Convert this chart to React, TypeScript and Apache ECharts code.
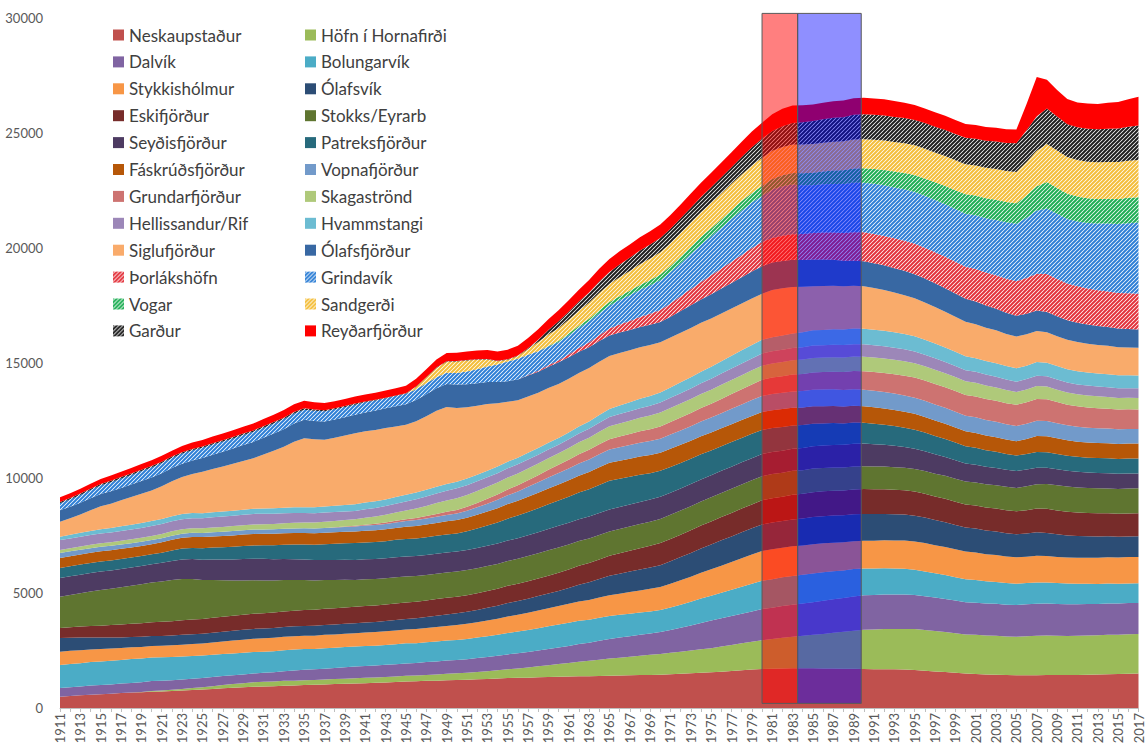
import React, { useEffect, useRef } from "react";
import * as echarts from "echarts";

const years: string[] = Array.from({ length: 107 }, (_, i) => String(1911 + i));

const names = [
  "Neskaupstaður", "Höfn í Hornafirði", "Dalvík", "Bolungarvík", "Stykkishólmur", "Ólafsvík",
  "Eskifjörður", "Stokks/Eyrarb", "Seyðisfjörður", "Patreksfjörður", "Fáskrúðsfjörður", "Vopnafjörður",
  "Grundarfjörður", "Skagaströnd", "Hellissandur/Rif", "Hvammstangi", "Siglufjörður", "Ólafsfjörður",
  "Þorlákshöfn", "Grindavík", "Vogar", "Sandgerði", "Garður", "Reyðarfjörður",
];

const neskaupstadur = [
  490,520,550,580,600,620,650,670,690,710,
  720,740,760,780,800,830,860,880,900,920,
  940,950,970,980,1000,1010,1020,1040,1050,1070,
  1080,1100,1110,1130,1150,1160,1180,1190,1210,1220,
  1230,1250,1260,1280,1300,1310,1320,1340,1350,1360,
  1370,1380,1380,1390,1400,1410,1420,1430,1440,1450,
  1470,1490,1510,1530,1550,1580,1610,1640,1670,1700,
  1710,1720,1730,1730,1730,1720,1720,1710,1710,1700,
  1690,1690,1680,1670,1650,1620,1590,1560,1530,1500,
  1480,1460,1450,1430,1420,1420,1420,1430,1430,1430,
  1440,1450,1460,1470,1480,1490,1500,
];
const hofn = [
  0,0,0,0,0,0,0,0,10,30,
  40,50,70,90,100,120,140,160,180,200,
  200,200,210,210,210,210,220,220,220,220,
  230,230,240,240,250,250,260,270,280,290,
  300,320,340,360,380,410,440,470,510,550,
  590,630,670,710,750,780,810,840,870,900,
  930,960,990,1020,1050,1090,1130,1170,1210,1250,
  1290,1330,1370,1410,1450,1500,1550,1600,1650,1700,
  1720,1740,1760,1770,1780,1770,1760,1740,1720,1700,
  1700,1690,1690,1680,1680,1700,1720,1720,1710,1700,
  1700,1700,1700,1710,1710,1720,1720,
];
const dalvik = [
  380,385,390,395,400,405,410,420,425,430,
  425,420,410,405,400,395,390,385,380,380,
  390,400,420,440,450,460,470,480,500,510,
  515,520,530,535,540,550,555,565,570,580,
  590,600,615,630,650,665,680,690,705,720,
  740,770,790,820,850,870,890,910,930,950,
  990,1040,1090,1150,1200,1230,1260,1290,1320,1350,
  1360,1380,1390,1400,1420,1440,1460,1470,1490,1500,
  1500,1500,1490,1490,1480,1470,1450,1440,1420,1400,
  1400,1390,1390,1380,1380,1390,1390,1390,1380,1380,
  1370,1370,1360,1360,1350,1350,1350,
];
const bolungarvik = [
  1000,1010,1010,1020,1020,1030,1030,1040,1030,1030,
  1020,1010,1000,990,980,970,960,950,940,930,
  920,920,910,910,900,890,890,880,880,870,
  870,860,860,870,870,860,860,870,870,870,
  880,890,900,910,930,940,950,970,990,1000,
  1010,1010,1000,1000,1000,990,980,970,960,960,
  980,1000,1030,1060,1080,1110,1140,1170,1200,1230,
  1240,1250,1250,1250,1250,1240,1220,1200,1190,1170,
  1160,1150,1130,1120,1100,1080,1060,1040,1020,1000,
  990,970,950,940,920,920,930,920,910,900,
  890,880,870,870,860,850,850,
];
const stykkisholmur = [
  580,570,560,550,540,530,520,510,500,500,
  500,505,510,515,520,530,540,555,570,580,
  580,580,585,580,580,575,580,580,580,580,
  585,590,595,600,600,610,620,630,640,650,
  660,670,690,700,720,730,750,770,780,800,
  820,840,860,880,900,920,940,960,980,1000,
  1030,1060,1090,1120,1150,1180,1210,1240,1270,1300,
  1300,1290,1290,1280,1270,1260,1240,1230,1210,1200,
  1200,1210,1220,1230,1230,1230,1220,1220,1210,1200,
  1190,1180,1170,1160,1150,1150,1160,1150,1140,1130,
  1130,1130,1140,1140,1140,1150,1150,
];
const olafsvik = [
  590,570,550,520,500,480,460,450,440,430,
  430,430,430,430,430,430,430,430,430,430,
  430,430,430,430,430,430,430,430,430,430,
  435,440,445,450,460,470,480,490,500,510,
  520,530,550,565,580,595,610,625,640,660,
  690,730,770,810,850,870,890,910,930,950,
  980,1010,1030,1060,1080,1100,1110,1130,1140,1150,
  1160,1160,1170,1170,1180,1180,1180,1170,1170,1170,
  1160,1150,1140,1130,1120,1110,1090,1080,1060,1050,
  1040,1030,1020,1010,1000,1010,1020,1000,980,960,
  950,940,930,920,910,900,900,
];
const eskifjordur = [
  440,460,480,500,520,540,560,570,590,600,
  610,620,630,635,640,645,650,650,655,660,
  665,670,675,680,690,695,700,710,715,720,
  720,720,720,720,720,720,720,720,720,720,
  725,730,735,740,750,755,765,770,780,790,
  800,820,830,850,870,890,910,930,940,960,
  970,975,985,990,1000,1010,1020,1030,1040,1050,
  1060,1060,1070,1070,1080,1080,1080,1080,1080,1080,
  1080,1070,1070,1060,1050,1040,1030,1020,1010,1000,
  1000,1000,1000,1000,1000,1010,1030,1050,1040,1030,
  1020,1010,1010,1000,1000,1000,1000,
];
const stokksEyrarb = [
  1360,1400,1450,1500,1550,1580,1620,1660,1700,1730,
  1760,1790,1800,1760,1700,1640,1580,1530,1490,1450,
  1420,1390,1360,1330,1300,1270,1250,1220,1200,1170,
  1160,1150,1140,1140,1130,1120,1110,1100,1100,1090,
  1090,1090,1080,1080,1080,1080,1090,1090,1100,1100,
  1090,1080,1070,1060,1050,1050,1050,1050,1050,1050,
  1050,1050,1050,1050,1050,1050,1050,1050,1050,1050,
  1050,1040,1040,1030,1030,1020,1010,1000,1000,990,
  990,985,980,980,980,985,990,995,1000,1000,
  1005,1010,1010,1015,1020,1040,1060,1080,1090,1100,
  1090,1080,1080,1070,1070,1080,1080,
];
const seydisfjordur = [
  810,810,805,800,800,795,795,790,790,790,
  810,830,850,870,880,900,910,920,930,940,
  940,930,920,910,900,890,880,880,870,870,
  870,870,870,870,870,870,870,870,870,870,
  870,875,880,885,890,900,910,920,930,940,
  945,950,955,960,960,960,960,960,960,960,
  960,960,960,960,960,960,960,960,960,960,
  960,960,965,965,970,975,980,985,990,990,
  970,950,930,900,880,860,840,820,800,780,
  770,760,750,740,730,725,720,710,700,690,
  680,675,670,665,660,655,650,
];
const patreksfjordur = [
  440,440,440,440,440,435,435,430,430,430,
  440,455,470,485,500,515,530,550,565,580,
  590,605,620,635,650,665,680,700,715,730,
  735,740,745,755,760,765,770,780,785,790,
  820,850,880,915,950,980,1010,1040,1070,1100,
  1130,1160,1190,1220,1250,1230,1200,1180,1150,1130,
  1120,1110,1100,1090,1080,1070,1070,1060,1060,1050,
  1040,1030,1010,1000,980,960,950,930,920,900,
  890,870,860,840,830,810,800,780,770,750,
  740,720,710,690,680,680,680,670,660,650,
  650,650,650,650,650,650,650,
];
const faskrudsfjordur = [
  430,430,435,440,440,440,440,440,440,440,
  450,460,470,475,480,485,490,495,500,500,
  500,500,500,500,500,500,500,500,500,500,
  505,510,515,520,530,540,550,560,570,580,
  590,600,615,625,640,650,665,675,690,700,
  715,730,745,765,780,785,790,790,790,790,
  790,790,785,785,780,780,780,780,780,780,
  780,775,770,765,760,750,745,735,730,720,
  715,710,700,695,690,680,675,665,660,650,
  645,640,635,630,620,650,700,700,690,670,
  660,660,655,655,650,650,650,
];
const vopnafjordur = [
  220,215,210,205,200,195,190,185,180,180,
  180,180,180,180,180,185,185,190,190,190,
  190,195,195,200,200,205,210,210,215,220,
  225,230,235,240,250,260,265,275,280,290,
  305,320,340,360,380,400,425,450,475,500,
  515,530,545,565,580,585,590,600,605,610,
  620,625,635,640,650,660,670,680,690,700,
  705,710,710,715,720,720,720,720,720,720,
  715,715,710,705,700,700,695,690,685,680,
  680,675,670,665,660,660,660,655,650,650,
  645,645,640,640,635,635,630,
];
const grundarfjordur = [
  0,0,0,0,0,0,0,0,0,0,
  0,0,0,0,0,0,0,0,0,0,
  0,0,0,0,0,0,0,10,20,30,
  40,50,60,70,80,90,105,120,135,150,
  170,190,210,230,250,270,290,315,340,360,
  380,400,420,435,450,465,480,500,515,530,
  545,560,570,585,600,620,640,660,680,700,
  710,720,730,740,750,760,770,780,790,800,
  815,830,845,860,880,885,890,895,900,900,
  905,910,915,915,920,935,950,950,920,900,
  890,880,870,865,860,855,850,
];
const skagastrond = [
  130,135,140,145,150,155,160,170,175,180,
  185,190,195,200,200,205,210,215,215,220,
  225,230,235,245,250,260,265,275,280,290,
  305,320,340,360,380,410,440,470,490,510,
  515,520,520,520,520,515,510,505,500,500,
  510,520,530,545,560,570,580,590,600,610,
  610,610,610,610,610,610,610,610,610,610,
  615,615,620,625,630,630,630,630,630,630,
  630,630,625,625,620,615,615,610,605,600,
  595,590,580,570,560,560,560,550,540,530,
  525,520,515,510,505,500,500,
];
const hellissandur = [
  430,430,430,430,430,430,430,430,430,430,
  430,435,435,440,440,445,450,450,455,460,
  455,450,440,430,420,410,400,385,370,360,
  365,370,375,380,390,400,410,420,425,430,
  425,420,415,410,400,395,390,385,380,370,
  375,380,385,395,400,405,410,415,425,430,
  440,450,460,470,480,490,500,510,520,530,
  530,535,535,540,540,540,540,540,540,540,
  535,530,525,520,510,505,500,490,485,480,
  475,470,465,460,450,450,450,445,440,430,
  430,430,425,425,420,420,420,
];
const hvammstangi = [
  150,155,165,170,180,190,200,205,215,220,
  220,220,220,220,220,220,220,220,220,220,
  225,230,235,245,250,260,265,275,280,290,
  290,290,290,290,290,290,290,290,290,290,
  290,290,290,290,290,290,290,290,290,290,
  300,310,320,335,350,370,390,410,425,440,
  455,470,490,505,520,535,550,570,585,600,
  610,625,635,650,660,665,670,675,680,680,
  680,675,670,665,660,650,640,625,610,600,
  595,590,585,580,580,585,590,590,585,580,
  575,570,570,565,565,560,560,
];
const siglufjordur = [
  650,720,800,900,1000,1060,1130,1200,1270,1330,
  1420,1520,1610,1700,1800,1880,1960,2040,2120,2200,
  2350,2500,2650,2850,3000,2950,2900,2950,3020,3090,
  3100,3100,3100,3070,3040,3100,3200,3300,3350,3200,
  3100,3000,2900,2750,2600,2500,2450,2400,2380,2350,
  2340,2330,2320,2310,2300,2280,2260,2240,2210,2180,
  2170,2150,2140,2120,2100,2080,2060,2040,2020,2000,
  2050,2050,2020,1970,1920,1910,1890,1880,1860,1850,
  1810,1770,1730,1690,1650,1620,1590,1560,1530,1500,
  1480,1450,1430,1400,1380,1370,1350,1330,1300,1280,
  1270,1250,1240,1230,1220,1210,1200,
];
const olafsfjordur = [
  500,505,510,520,530,535,540,545,555,560,
  570,575,585,590,600,620,640,660,690,710,
  730,750,770,790,800,800,800,800,800,800,
  820,840,860,880,900,930,960,980,1000,1020,
  1000,980,950,920,900,900,910,920,930,940,
  930,920,910,905,900,895,890,885,880,880,
  900,950,990,1020,1050,1080,1110,1140,1170,1200,
  1200,1190,1180,1170,1160,1150,1130,1110,1090,1080,
  1080,1070,1060,1060,1050,1040,1030,1020,1010,1000,
  980,960,940,920,900,890,890,880,870,850,
  840,830,820,815,810,805,800,
];
const thorlakshofn = [
  0,0,0,0,0,0,0,0,0,0,
  0,0,0,0,0,0,0,0,0,0,
  0,0,0,0,0,0,0,0,0,0,
  0,0,0,0,0,0,0,0,0,0,
  0,0,0,0,0,0,20,40,60,80,
  120,160,200,250,300,350,390,430,480,520,
  580,640,700,760,820,870,920,970,1020,1050,
  1070,1090,1110,1130,1150,1170,1190,1210,1240,1260,
  1270,1280,1300,1310,1330,1340,1350,1370,1380,1400,
  1420,1440,1460,1480,1500,1550,1600,1650,1620,1600,
  1580,1570,1560,1550,1550,1550,1550,
];
const grindavik = [
  300,320,340,360,380,400,410,420,430,440,
  440,440,440,440,440,440,440,440,440,440,
  440,440,440,440,440,440,440,440,440,440,
  440,440,440,445,450,460,470,480,490,500,
  550,600,680,760,850,900,880,850,820,800,
  840,880,920,960,1000,1060,1120,1180,1240,1300,
  1360,1440,1530,1620,1700,1780,1860,1930,1980,2000,
  2100,2150,2170,2120,2080,2100,2110,2130,2150,2160,
  2180,2200,2210,2230,2250,2260,2270,2280,2290,2300,
  2330,2360,2400,2450,2500,2620,2750,2850,2830,2800,
  2820,2850,2900,2950,3000,3050,3100,
];
const vogar = [
  0,0,0,0,0,0,0,0,0,0,
  0,0,0,0,0,0,0,0,0,0,
  0,0,0,0,0,0,0,0,0,0,
  0,0,0,0,0,0,0,0,0,0,
  0,0,0,0,0,0,0,0,20,50,
  70,90,110,130,150,170,190,210,230,250,
  270,290,310,330,350,370,390,410,420,440,
  460,480,500,520,540,560,580,600,620,630,
  650,670,690,710,730,750,770,800,820,850,
  860,870,880,890,900,970,1050,1150,1120,1100,
  1080,1070,1070,1080,1090,1100,1100,
];
const sandgerdi = [
  0,0,0,0,0,0,0,0,0,0,
  0,0,0,0,0,0,0,0,0,0,
  0,0,0,0,0,0,0,0,0,0,
  0,0,0,0,0,100,250,400,480,510,
  480,420,300,150,80,120,250,400,500,550,
  600,650,700,750,780,820,860,900,930,960,
  990,1020,1050,1080,1100,1120,1140,1160,1190,1220,
  1230,1235,1240,1245,1250,1250,1255,1255,1260,1260,
  1270,1280,1285,1290,1300,1300,1300,1300,1300,1300,
  1310,1320,1330,1340,1350,1450,1550,1650,1630,1600,
  1590,1590,1590,1600,1600,1610,1620,
];
const gardur = [
  60,60,60,60,60,60,60,60,60,60,
  60,60,60,60,60,60,60,60,60,60,
  60,60,60,60,60,55,50,50,50,50,
  40,30,20,20,20,20,20,20,20,20,
  20,20,20,20,20,20,40,100,200,300,
  350,400,450,500,530,560,580,600,610,620,
  630,640,650,660,680,700,720,760,800,830,
  860,900,930,970,1000,1020,1040,1050,1070,1080,
  1080,1090,1090,1100,1100,1110,1120,1130,1140,1150,
  1160,1180,1200,1220,1250,1380,1500,1550,1480,1420,
  1420,1430,1440,1450,1460,1480,1500,
];
const reydarfjordur = [
  200,205,210,215,220,225,230,240,245,250,
  255,260,265,275,280,285,290,295,300,300,
  310,320,330,340,330,320,310,300,300,300,
  305,310,315,320,330,340,345,350,355,360,
  370,380,390,400,420,430,440,450,460,480,
  500,520,540,550,560,570,575,580,580,590,
  590,600,610,620,630,640,650,660,680,700,
  720,760,760,740,720,720,720,720,720,720,
  710,700,690,670,650,640,630,620,610,600,
  600,600,600,600,600,1150,1700,1250,1150,1100,
  1080,1100,1100,1120,1150,1200,1250,
];

const seriesValues = [
  neskaupstadur, hofn, dalvik, bolungarvik, stykkisholmur, olafsvik,
  eskifjordur, stokksEyrarb, seydisfjordur, patreksfjordur, faskrudsfjordur, vopnafjordur,
  grundarfjordur, skagastrond, hellissandur, hvammstangi, siglufjordur, olafsfjordur,
  thorlakshofn, grindavik, vogar, sandgerdi, gardur, reydarfjordur,
];

const solidColors: Record<string, string> = {
  "Neskaupstaður": "#C0504D",
  "Höfn í Hornafirði": "#9BBB59",
  "Dalvík": "#8064A2",
  "Bolungarvík": "#4BACC6",
  "Stykkishólmur": "#F79646",
  "Ólafsvík": "#2C4D75",
  "Eskifjörður": "#772C2A",
  "Stokks/Eyrarb": "#5F7530",
  "Seyðisfjörður": "#4D3B62",
  "Patreksfjörður": "#276A7C",
  "Fáskrúðsfjörður": "#B65708",
  "Vopnafjörður": "#729ACA",
  "Grundarfjörður": "#CD7371",
  "Skagaströnd": "#AFC97A",
  "Hellissandur/Rif": "#9C87B8",
  "Hvammstangi": "#6CBCD2",
  "Siglufjörður": "#F9AB6B",
  "Ólafsfjörður": "#3868A3",
  "Reyðarfjörður": "#FF0000",
};
const hatchColors: Record<string, string> = {
  "Þorlákshöfn": "#E3333C",
  "Grindavík": "#2E7FD6",
  "Vogar": "#1FAE55",
  "Sandgerði": "#F4BE3A",
  "Garður": "#1E1E1E",
};

// [from year, to year, bottom value, top value]
const periods = [
  [1980, 1983.5, 200, 30200],
  [1983.5, 1989.75, 200, 30200],
];
const periodFills = ["rgba(255,0,0,0.5)", "rgba(0,0,255,0.44)"];

const leftLegend = names.filter((_, i) => i % 2 === 0);
const rightLegend = names.filter((_, i) => i % 2 === 1);

function hatch(color: string) {
  const s = 4;
  const c = document.createElement("canvas");
  c.width = s;
  c.height = s;
  const g = c.getContext("2d")!;
  g.fillStyle = "#ffffff";
  g.fillRect(0, 0, s, s);
  g.strokeStyle = color;
  g.lineWidth = 2;
  g.beginPath();
  g.moveTo(-1, s + 1); g.lineTo(s + 1, -1);
  g.moveTo(-1, 1); g.lineTo(1, -1);
  g.moveTo(s - 1, s + 1); g.lineTo(s + 1, s - 1);
  g.stroke();
  return { image: c.toDataURL(), repeat: "repeat", imageWidth: s, imageHeight: s };
}

export default function App() {
  const ref = useRef<HTMLDivElement>(null);
  useEffect(() => {
    if (!ref.current) return;
    const chart = echarts.init(ref.current, undefined, { renderer: "svg" });
    const areaSeries = names.map((name, i) => {
      const color: any = hatchColors[name] ? hatch(hatchColors[name]) : solidColors[name];
      return {
        name,
        type: "line",
        stack: "total",
        data: seriesValues[i],
        symbol: "none",
        showSymbol: false,
        silent: true,
        itemStyle: { color },
        lineStyle: { width: 0, opacity: 0 },
        areaStyle: { color, opacity: 1 },
        emphasis: { disabled: true },
        xAxisIndex: 0,
        yAxisIndex: 0,
      };
    });
    const legendBase = {
      orient: "vertical",
      top: 25,
      padding: 0,
      itemWidth: 11,
      itemHeight: 11,
      itemGap: 6.9,
      icon: "rect",
      selectedMode: false,
      textStyle: { fontSize: 17, color: "#404040", lineHeight: 20, fontFamily: "Lato" },
    };
    chart.setOption({
      animation: false,
      backgroundColor: "#ffffff",
      textStyle: { fontFamily: "Lato, sans-serif" },
      grid: { left: 60, right: 4, top: 18, bottom: 39, containLabel: false },
      legend: [
        { ...legendBase, left: 113, data: leftLegend },
        { ...legendBase, left: 305, data: rightLegend },
      ],
      xAxis: [
        {
          type: "category",
          data: years,
          boundaryGap: false,
          axisLine: { lineStyle: { color: "#BFBFBF" } },
          axisTick: { interval: 0, length: 4, lineStyle: { color: "#BFBFBF" } },
          axisLabel: { interval: 1, rotate: 90, fontSize: 13, color: "#595959", margin: 5 },
          splitLine: { show: false },
        },
        { type: "value", min: 1911, max: 2017, show: false },
      ],
      yAxis: [
        {
          type: "value",
          min: 0,
          max: 30000,
          interval: 5000,
          axisLine: { show: false },
          axisTick: { show: false },
          splitLine: { show: false },
          axisLabel: {
            fontSize: 13,
            color: "#595959",
            margin: 17,
            formatter: (v: number) => String(v),
          },
        },
      ],
      series: [
        ...areaSeries,
        {
          type: "custom",
          name: "periods",
          xAxisIndex: 1,
          yAxisIndex: 0,
          clip: false,
          silent: true,
          z: 10,
          encode: { x: [0, 1], y: [2, 3] },
          data: periods,
          renderItem: (params: any, api: any) => {
            const p0 = api.coord([api.value(0), api.value(3)]);
            const p1 = api.coord([api.value(1), api.value(2)]);
            return {
              type: "rect",
              shape: { x: p0[0], y: p0[1], width: p1[0] - p0[0], height: p1[1] - p0[1] },
              style: { fill: periodFills[params.dataIndex], stroke: "#5A5A5A", lineWidth: 1 },
            };
          },
        },
      ],
    });
    return () => chart.dispose();
  }, []);
  return (
    <div
      ref={ref}
      style={{ position: "fixed", left: 0, top: 0, width: 1145, height: 747, background: "#fff" }}
    />
  );
}
